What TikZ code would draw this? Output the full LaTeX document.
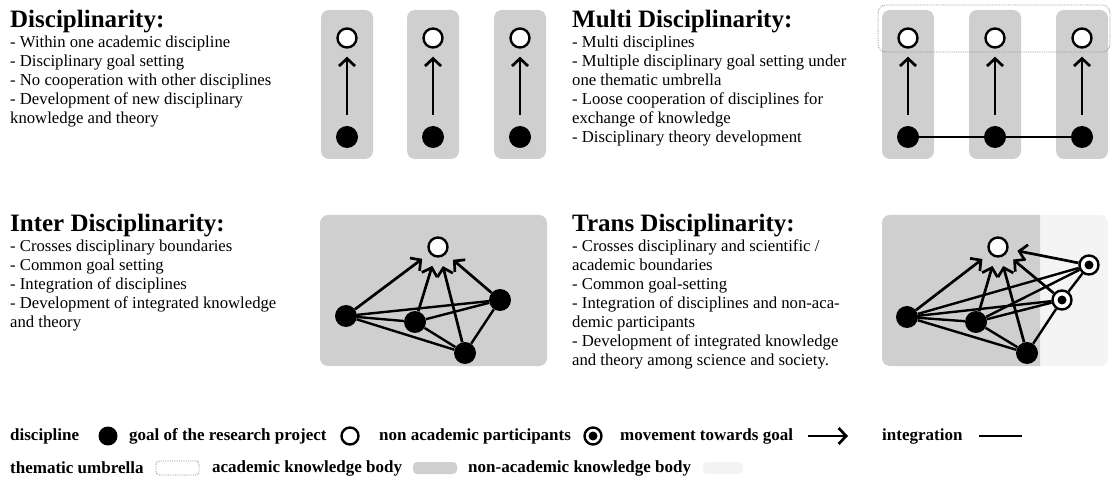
\documentclass[tikz,border=0pt]{standalone}
\usepackage{xcolor}
\usepackage{fontspec}
\setmainfont{Liberation Serif}
\usepackage{tikz}
\definecolor{acadgray}{RGB}{207, 207, 207}
\definecolor{nonacadgray}{RGB}{244, 244, 244}
\definecolor{umbrellagray}{RGB}{140, 140, 140}
\usetikzlibrary{arrows.meta, positioning, calc}

\begin{document}
\begin{tikzpicture}[x=1pt, y=-1pt,
    heading/.style={anchor=base west, inner sep=0pt, font=\fontsize{25}{30}\selectfont\bfseries},
    bodytext/.style={anchor=north west, inner sep=0pt, align=left, font=\fontsize{16.7}{19}\selectfont},
    legendtext/.style={anchor=west, inner sep=0pt, font=\fontsize{17}{19}\selectfont\bfseries},
    discipline/.style={circle, fill=black, inner sep=0pt, minimum size=22pt},
    goal/.style={circle, draw=black, fill=white, line width=2.4pt, inner sep=0pt, minimum size=19pt},
    nonacad/.style={goal, path picture={\fill[black] (path picture bounding box.center) circle (4.5pt);}},
    movement/.style={line width=2.7pt, -{Straight Barb[length=7.5pt, width=16pt]}},
    integration/.style={line width=2.4pt},
    acadbody/.style={fill=acadgray, rounded corners=8pt},
    nonacadbody/.style={fill=nonacadgray, rounded corners=8pt},
    umbrella/.style={draw=umbrellagray, densely dotted, line width=0.8pt, rounded corners=8pt}]

    \useasboundingbox (0,0) rectangle (1112,481);

    % Disciplinarity
    \node[heading] (dishead) at (10,28) {Disciplinarity:};
    \node[bodytext] (disbody) at (10,36) {- Within one academic discipline\\- Disciplinary goal setting\\- No cooperation with other disciplines\\- Development of new disciplinary\\knowledge and theory};
    \foreach \i/\x in {1/347, 2/433, 3/520} {
        \fill[acadbody] (\x-26,10) rectangle (\x+26,159);
        \node[goal] (dgoal\i) at (\x,38) {};
        \node[discipline] (ddisc\i) at (\x,137) {};
        \draw[movement, shorten <=11pt, shorten >=8pt] (ddisc\i) -- (dgoal\i);
    }

    % Multi Disciplinarity
    \node[heading] (multihead) at (572,28) {Multi Disciplinarity:};
    \node[bodytext] (multibody) at (572,36) {- Multi disciplines\\- Multiple disciplinary goal setting under\\one thematic umbrella\\- Loose cooperation of disciplines for\\exchange of knowledge\\- Disciplinary theory development};
    \foreach \i/\x in {1/908, 2/995, 3/1082} {
        \fill[acadbody] (\x-26,10) rectangle (\x+26,159);
        \node[goal] (mgoal\i) at (\x,38) {};
        \node[discipline] (mdisc\i) at (\x,137) {};
        \draw[movement, shorten <=11pt, shorten >=8pt] (mdisc\i) -- (mgoal\i);
    }
    \draw[umbrella] (878,5) rectangle (1110,52);
    \draw[integration] (mdisc1) -- (mdisc2) -- (mdisc3);

    % Inter Disciplinarity
    \node[heading] (interhead) at (10,232) {Inter Disciplinarity:};
    \node[bodytext] (interbody) at (10,240) {- Crosses disciplinary boundaries\\- Common goal setting\\- Integration of disciplines\\- Development of integrated knowledge\\and theory};
    \fill[acadbody] (320,215) rectangle (547,366);
    \node[goal] (igoal) at (438,247) {};
    \node[discipline] (ia) at (346,316) {};
    \node[discipline] (ib) at (415,322) {};
    \node[discipline] (ic) at (500,300) {};
    \node[discipline] (id) at (465,353) {};
    \foreach \n in {ia, ib, ic, id}
        \draw[movement, shorten >=9pt] (\n) -- (igoal);
    \foreach \s/\t in {ia/ib, ia/ic, ia/id, ib/ic, ib/id, ic/id}
        \draw[integration] (\s) -- (\t);

    % Trans Disciplinarity
    \node[heading] (transhead) at (572,232) {Trans Disciplinarity:};
    \node[bodytext] (transbody) at (572,240) {- Crosses disciplinary and scientific /\\academic boundaries\\- Common goal-setting\\- Integration of disciplines and non-aca-\\demic participants\\- Development of integrated knowledge\\and theory among science and society.};
    \fill[nonacadbody] (882,215) rectangle (1108,366);
    \begin{scope}
        \clip (0,0) rectangle (1040,481);
        \fill[acadbody] (882,215) rectangle (1108,366);
    \end{scope}
    \node[goal] (tgoal) at (998,247) {};
    \node[discipline] (ta) at (907,317) {};
    \node[discipline] (tb) at (976,322) {};
    \node[discipline] (td) at (1027,353) {};
    \node[nonacad] (tp) at (1089,265) {};
    \node[nonacad] (tq) at (1062,300) {};
    \foreach \n in {ta, tb, td, tq, tp}
        \draw[movement, shorten >=9pt] (\n) -- (tgoal);
    \foreach \s/\t in {ta/tb, ta/td, ta/tp, ta/tq, tb/td, tb/tp, tb/tq, td/tq, tq/tp}
        \draw[integration] (\s) -- (\t);

    % Legend
    \node[legendtext] (ldisc) at (10,436) {discipline};
    \node[discipline, minimum size=19pt] (ldiscsym) at (108,436) {};
    \node[legendtext] (lgoal) at (129,436) {goal of the research project};
    \node[goal, minimum size=17pt] (lgoalsym) at (350,436) {};
    \node[legendtext] (lnonacad) at (379,436) {non academic participants};
    \node[nonacad, minimum size=17pt] (lnonacadsym) at (593,436) {};
    \node[legendtext] (lmove) at (620,436) {movement towards goal};
    \coordinate (lmovea) at (808,436);
    \coordinate (lmoveb) at (848,436);
    \draw[movement] (lmovea) -- (lmoveb);
    \node[legendtext] (linteg) at (882,436) {integration};
    \coordinate (lintega) at (979,436);
    \coordinate (lintegb) at (1022,436);
    \draw[integration] (lintega) -- (lintegb);

    \node[legendtext] (lumbrella) at (10,468) {thematic umbrella};
    \draw[umbrella, rounded corners=3pt] (156,461) rectangle (199,475);
    \node[legendtext] (lacad) at (212,468) {academic knowledge body};
    \fill[acadbody, rounded corners=4pt] (413,462) rectangle (457,474);
    \node[legendtext] (lnonacadbody) at (468,468) {non-academic knowledge body};
    \fill[nonacadbody, rounded corners=4pt] (703,462) rectangle (743,474);
\end{tikzpicture}
\end{document}
